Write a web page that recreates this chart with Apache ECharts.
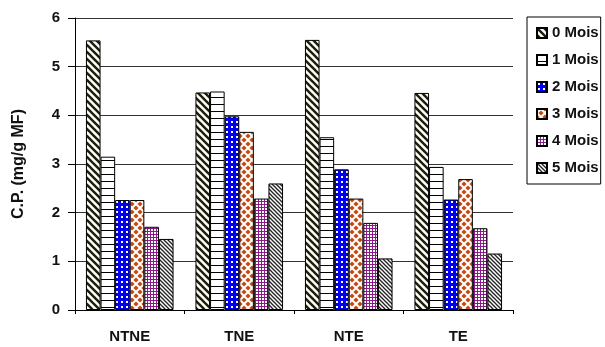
<!DOCTYPE html>
<html><head><meta charset="utf-8">
<script src="https://cdn.jsdelivr.net/npm/echarts@6/dist/echarts.min.js"></script>
<style>html,body{margin:0;padding:0;background:#fff}#c{width:605px;height:347px}</style>
</head><body><div id="c"></div>
<script>
const categories = ['NTNE', 'TNE', 'NTE', 'TE'];
const seriesNames = ['0 Mois', '1 Mois', '2 Mois', '3 Mois', '4 Mois', '5 Mois'];
const mois0 = [5.54, 4.47, 5.55, 4.46];
const mois1 = [3.15, 4.49, 3.55, 2.94];
const mois2 = [2.26, 3.98, 2.89, 2.27];
const mois3 = [2.26, 3.66, 2.29, 2.69];
const mois4 = [1.71, 2.29, 1.79, 1.68];
const mois5 = [1.46, 2.60, 1.06, 1.16];
const yTicks = [0, 1, 2, 3, 4, 5, 6];

function tile(w, h, draw) {
  const c = document.createElement('canvas');
  c.width = w; c.height = h;
  const ctx = c.getContext('2d');
  ctx.fillStyle = '#fff'; ctx.fillRect(0, 0, w, h);
  draw(ctx, w, h);
  return { image: c, repeat: 'repeat' };
}
function diag(n, lw, col) {
  return tile(n, n, (ctx) => {
    ctx.strokeStyle = col; ctx.lineWidth = lw;
    for (let k = -1; k <= 1; k++) {
      ctx.beginPath(); ctx.moveTo(-1, k * n - 1); ctx.lineTo(n + 1, n + k * n + 1); ctx.stroke();
    }
  });
}
const patterns = [
  diag(7, 2.4, '#1e1e08'),
  tile(8, 7, (ctx, w, h) => { ctx.fillStyle = '#000'; ctx.fillRect(0, h - 1, w, 1); }),
  tile(5, 5, (ctx) => { ctx.fillStyle = '#0000ee'; ctx.fillRect(0, 0, 5, 5); ctx.fillStyle = '#fff'; ctx.fillRect(1, 1, 2, 2); }),
  tile(8, 8, (ctx) => {
    ctx.fillStyle = '#c24a12';
    const d = (x, y, r) => { ctx.beginPath(); ctx.moveTo(x, y - r); ctx.lineTo(x + r, y); ctx.lineTo(x, y + r); ctx.lineTo(x - r, y); ctx.closePath(); ctx.fill(); };
    d(4, 4, 2.6); d(0, 0, 2.6); d(8, 0, 2.6); d(0, 8, 2.6); d(8, 8, 2.6);
  }),
  tile(3, 3, (ctx) => { ctx.fillStyle = '#8a1a8a'; ctx.fillRect(0, 0, 3, 1); ctx.fillRect(0, 0, 1, 3); }),
  diag(4, 1.3, '#222')
];
const allData = [mois0, mois1, mois2, mois3, mois4, mois5];

const chart = echarts.init(document.getElementById('c'), null, { renderer: 'canvas' });
const font = 'Liberation Sans, Arial, sans-serif';
chart.setOption({
  animation: false,
  textStyle: { fontFamily: font },
  grid: { left: 75, right: 92, top: 18, bottom: 37 },
  legend: {
    orient: 'vertical', left: 527, top: 17,
    padding: [8, 2, 8, 9],
    borderColor: '#000', borderWidth: 1,
    itemWidth: 10, itemHeight: 10, itemGap: 11,
    icon: 'rect',
    data: seriesNames,
    textStyle: { fontFamily: font, fontWeight: 'bold', fontSize: 15, lineHeight: 16, color: '#111' }
  },
  xAxis: {
    type: 'category', data: categories,
    axisLine: { lineStyle: { color: '#000', width: 1 } },
    axisTick: { show: true, length: 4, lineStyle: { color: '#000' } },
    axisLabel: { fontFamily: font, fontWeight: 'bold', fontSize: 15, color: '#111', margin: 19 }
  },
  yAxis: {
    type: 'value', min: 0, max: 6, interval: 1,
    name: 'C.P. (mg/g MF)', nameLocation: 'middle', nameGap: 48, nameRotate: 90,
    nameTextStyle: { fontFamily: font, fontWeight: 'bold', fontSize: 16, color: '#111' },
    axisLine: { show: true, lineStyle: { color: '#000' } },
    axisTick: { show: true, length: 7, lineStyle: { color: '#000' } },
    axisLabel: { fontFamily: font, fontWeight: 'bold', fontSize: 15, color: '#111', margin: 15,
      formatter: v => yTicks.includes(v) ? String(v) : '' },
    splitLine: { show: true, lineStyle: { color: '#333', width: 1 } }
  },
  series: seriesNames.map((n, i) => ({
    name: n, type: 'bar', data: allData[i],
    barGap: '0%', barCategoryGap: '20%',
    itemStyle: { color: patterns[i], borderColor: '#000', borderWidth: 1 }
  }))
});
</script></body></html>
